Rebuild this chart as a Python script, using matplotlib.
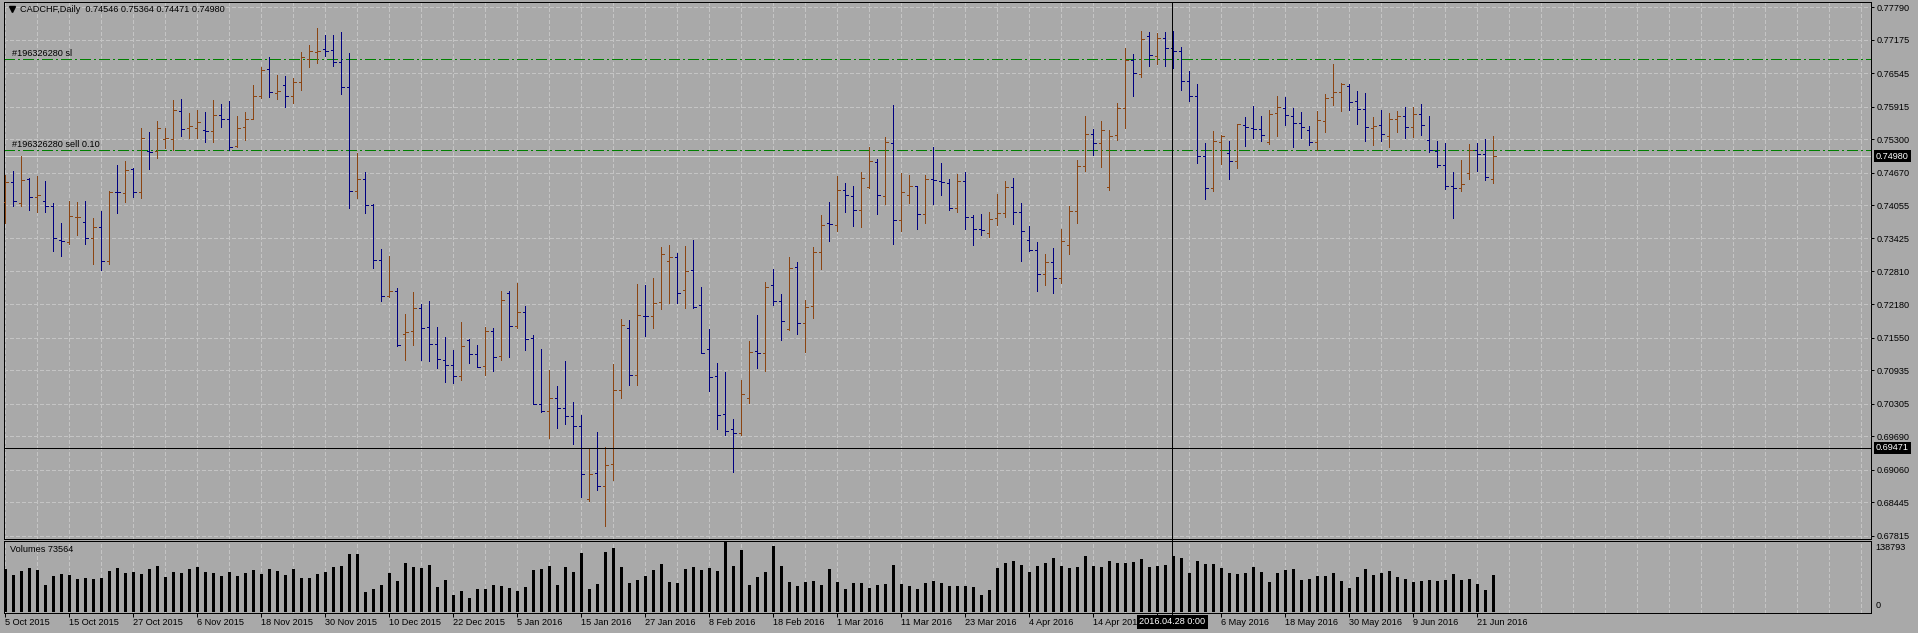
import matplotlib
matplotlib.use('Agg')
import numpy as np
import matplotlib.pyplot as plt
import matplotlib.transforms as mtransforms
from matplotlib.collections import LineCollection
from matplotlib.lines import Line2D

# ---- data (CADCHF daily, 5 Oct 2015 .. 23 Jun 2016) ----
opens = [
    0.74122, 0.74487, 0.74103, 0.74543, 0.74216, 0.74128, 0.74034, 0.73399, 0.73355, 0.73826,
    0.73738, 0.73430, 0.73638, 0.73009, 0.74311, 0.74285, 0.74738, 0.74298, 0.75072, 0.75072,
    0.75304, 0.75304, 0.75833, 0.75518, 0.75518, 0.75474, 0.75462, 0.75757, 0.75682, 0.75179,
    0.75525, 0.75682, 0.76110, 0.76632, 0.76179, 0.76323, 0.76110, 0.76374, 0.76814, 0.76952,
    0.77003, 0.76978, 0.76751, 0.76279, 0.74317, 0.74543, 0.74053, 0.73021, 0.72342, 0.72430,
    0.71625, 0.71675, 0.72115, 0.71751, 0.71436, 0.71134, 0.71034, 0.70826, 0.71512, 0.71247,
    0.71015, 0.71675, 0.71203, 0.72405, 0.71776, 0.72046, 0.71543, 0.70298, 0.70166, 0.70411,
    0.70222, 0.70065, 0.69876, 0.68511, 0.68996, 0.68757, 0.69165, 0.70568, 0.71732, 0.70839,
    0.71971, 0.71971, 0.72222, 0.72996, 0.73078, 0.72449, 0.72832, 0.72166, 0.71335, 0.70826,
    0.70115, 0.69826, 0.69750, 0.70411, 0.71298, 0.71254, 0.72543, 0.72241, 0.71725, 0.72883,
    0.71826, 0.72147, 0.73166, 0.73713, 0.73675, 0.74342, 0.74229, 0.73965, 0.74392, 0.74870,
    0.74222, 0.75229, 0.73770, 0.74241, 0.74411, 0.73883, 0.74543, 0.74518, 0.74468, 0.73996,
    0.74512, 0.73833, 0.73601, 0.73525, 0.73814, 0.73902, 0.74393, 0.73921, 0.73399, 0.73204,
    0.72758, 0.72978, 0.72676, 0.73305, 0.73940, 0.74802, 0.75399, 0.75230, 0.74406, 0.75381,
    0.75884, 0.76796, 0.76525, 0.77255, 0.76865, 0.77205, 0.77016, 0.76966, 0.76393, 0.76117,
    0.74978, 0.74374, 0.75249, 0.75041, 0.74884, 0.75562, 0.75512, 0.75487, 0.75242, 0.75795,
    0.75883, 0.75739, 0.75600, 0.75468, 0.75242, 0.75638, 0.76091, 0.76185, 0.76305, 0.76015,
    0.75864, 0.75506, 0.75562, 0.75355, 0.75676, 0.75732, 0.75525, 0.75770, 0.75286, 0.75072,
    0.74808, 0.74411, 0.74374, 0.74657, 0.75097, 0.75015, 0.74546,
]
highs = [
    0.74625, 0.74701, 0.74984, 0.74562, 0.74606, 0.74512, 0.74103, 0.73726, 0.74135, 0.74116,
    0.74135, 0.73814, 0.73946, 0.74323, 0.74814, 0.74889, 0.74757, 0.75518, 0.75437, 0.75644,
    0.75518, 0.76040, 0.76059, 0.75789, 0.75852, 0.75814, 0.76040, 0.75959, 0.76022, 0.75738,
    0.75820, 0.76323, 0.76669, 0.76858, 0.76512, 0.76493, 0.76449, 0.76952, 0.77078, 0.77393,
    0.77267, 0.77267, 0.77324, 0.76921, 0.75034, 0.74675, 0.74072, 0.73222, 0.73097, 0.72487,
    0.72002, 0.72417, 0.72191, 0.72248, 0.71757, 0.71568, 0.71323, 0.71851, 0.71524, 0.71417,
    0.71757, 0.71732, 0.72436, 0.72436, 0.72581, 0.72153, 0.71606, 0.71335, 0.70945, 0.70644,
    0.71115, 0.70342, 0.70096, 0.69455, 0.69769, 0.69486, 0.71059, 0.71908, 0.71889, 0.72568,
    0.72549, 0.72688, 0.73266, 0.73304, 0.73153, 0.73285, 0.73398, 0.72512, 0.71719, 0.71077,
    0.70908, 0.70021, 0.70757, 0.71493, 0.71983, 0.72606, 0.72851, 0.72380, 0.73078, 0.72983,
    0.72266, 0.73266, 0.73870, 0.74116, 0.74606, 0.74474, 0.74417, 0.74682, 0.75153, 0.74927,
    0.75342, 0.75946, 0.74663, 0.74625, 0.74417, 0.74625, 0.75153, 0.74851, 0.74550, 0.74644,
    0.74682, 0.73871, 0.73890, 0.73934, 0.74267, 0.74513, 0.74569, 0.74097, 0.73663, 0.73362,
    0.73141, 0.73255, 0.73613, 0.74041, 0.74909, 0.75739, 0.75494, 0.75645, 0.75475, 0.75978,
    0.77029, 0.76909, 0.77349, 0.77330, 0.77312, 0.77330, 0.77349, 0.77041, 0.76588, 0.76343,
    0.75236, 0.75462, 0.75381, 0.75267, 0.75594, 0.75720, 0.75927, 0.75739, 0.75852, 0.76116,
    0.76097, 0.75890, 0.75814, 0.75550, 0.75833, 0.76154, 0.76720, 0.76361, 0.76342, 0.76210,
    0.76173, 0.75720, 0.75852, 0.75795, 0.75833, 0.75908, 0.75908, 0.75965, 0.75739, 0.75273,
    0.75229, 0.74682, 0.74908, 0.75210, 0.75229, 0.75305, 0.75364,
]
lows = [
    0.73713, 0.74046, 0.74046, 0.73965, 0.73927, 0.73933, 0.73197, 0.73097, 0.73317, 0.73499,
    0.73329, 0.72939, 0.72839, 0.72939, 0.73914, 0.74122, 0.74216, 0.74197, 0.74745, 0.74940,
    0.75128, 0.75097, 0.75367, 0.75330, 0.75330, 0.75254, 0.75254, 0.75537, 0.75097, 0.75147,
    0.75286, 0.75676, 0.76072, 0.76103, 0.76059, 0.75915, 0.75990, 0.76229, 0.76669, 0.76745,
    0.76877, 0.76688, 0.76160, 0.74009, 0.74197, 0.73914, 0.72877, 0.72254, 0.72329, 0.71386,
    0.71134, 0.71417, 0.71122, 0.71103, 0.70983, 0.70725, 0.70706, 0.70744, 0.71065, 0.70996,
    0.70839, 0.70914, 0.71122, 0.71191, 0.71744, 0.71323, 0.70298, 0.70140, 0.69650, 0.69851,
    0.69914, 0.69537, 0.68536, 0.68461, 0.68669, 0.68002, 0.68857, 0.70405, 0.70650, 0.70650,
    0.71593, 0.71744, 0.72103, 0.72216, 0.72216, 0.72122, 0.72109, 0.71254, 0.70555, 0.69832,
    0.69706, 0.69008, 0.69713, 0.70310, 0.70971, 0.70914, 0.72178, 0.71518, 0.71688, 0.71631,
    0.71291, 0.71927, 0.72858, 0.73386, 0.73575, 0.73933, 0.73669, 0.73650, 0.74373, 0.73895,
    0.74084, 0.73317, 0.73575, 0.74090, 0.73600, 0.73726, 0.74084, 0.74254, 0.73971, 0.73933,
    0.73612, 0.73311, 0.73500, 0.73462, 0.73689, 0.73840, 0.73707, 0.73009, 0.73198, 0.72443,
    0.72538, 0.72387, 0.72594, 0.73141, 0.73726, 0.74708, 0.75009, 0.74783, 0.74349, 0.75286,
    0.75519, 0.76123, 0.76481, 0.76683, 0.76727, 0.76689, 0.76639, 0.76236, 0.76028, 0.74859,
    0.74179, 0.74330, 0.74840, 0.74557, 0.74764, 0.75179, 0.75323, 0.75273, 0.75210, 0.75367,
    0.75575, 0.75160, 0.75323, 0.75198, 0.75097, 0.75443, 0.75952, 0.75839, 0.75858, 0.75594,
    0.75273, 0.75198, 0.75273, 0.75160, 0.75443, 0.75323, 0.75349, 0.75386, 0.75066, 0.74782,
    0.74367, 0.73820, 0.74330, 0.74556, 0.74707, 0.74537, 0.74471,
]
closes = [
    0.74487, 0.74135, 0.74525, 0.74204, 0.74254, 0.74034, 0.73430, 0.73386, 0.73851, 0.73839,
    0.73430, 0.73638, 0.73009, 0.74311, 0.74298, 0.74719, 0.74298, 0.75317, 0.75059, 0.75512,
    0.75317, 0.75852, 0.75493, 0.75550, 0.75625, 0.75462, 0.75757, 0.75682, 0.75160, 0.75506,
    0.75682, 0.76110, 0.76606, 0.76191, 0.76210, 0.76110, 0.76374, 0.76846, 0.76965, 0.76965,
    0.76965, 0.76751, 0.76279, 0.74330, 0.74543, 0.74053, 0.73021, 0.72342, 0.72430, 0.71405,
    0.71656, 0.72115, 0.71738, 0.71436, 0.71147, 0.71034, 0.70826, 0.71398, 0.71247, 0.71008,
    0.71675, 0.71185, 0.72260, 0.71776, 0.72034, 0.71524, 0.70304, 0.70166, 0.70411, 0.70222,
    0.70065, 0.69876, 0.68977, 0.68983, 0.68757, 0.69153, 0.70568, 0.71801, 0.70839, 0.71977,
    0.71958, 0.72210, 0.73134, 0.73078, 0.72398, 0.72807, 0.72140, 0.71260, 0.70813, 0.70090,
    0.69794, 0.69750, 0.70486, 0.71279, 0.71254, 0.72518, 0.72241, 0.71864, 0.72864, 0.71826,
    0.72128, 0.73166, 0.73675, 0.73694, 0.74342, 0.74241, 0.73965, 0.74562, 0.74883, 0.74241,
    0.75241, 0.73770, 0.74304, 0.74417, 0.73883, 0.74543, 0.74531, 0.74487, 0.73996, 0.74512,
    0.73826, 0.73601, 0.73582, 0.73796, 0.73902, 0.74393, 0.73921, 0.73563, 0.73204, 0.72758,
    0.72978, 0.72676, 0.73374, 0.73940, 0.74802, 0.75399, 0.75230, 0.75475, 0.75368, 0.75884,
    0.76796, 0.76544, 0.77186, 0.76884, 0.77205, 0.77016, 0.76966, 0.76393, 0.76117, 0.74978,
    0.74374, 0.75267, 0.75368, 0.74884, 0.75582, 0.75531, 0.75493, 0.75374, 0.75776, 0.75902,
    0.75751, 0.75600, 0.75525, 0.75242, 0.75657, 0.76072, 0.76185, 0.76342, 0.75996, 0.75864,
    0.75525, 0.75544, 0.75393, 0.75676, 0.75732, 0.75525, 0.75770, 0.75562, 0.75091, 0.74808,
    0.74411, 0.74374, 0.74449, 0.75097, 0.75015, 0.74581, 0.74980,
]
volumes = [
    84600, 72700, 80600, 86600, 82600, 52900, 70700, 74700, 72700, 64800,
    66800, 64800, 66800, 80600, 86600, 76700, 78700, 74700, 84600, 90600,
    68700, 78700, 76700, 84600, 88600, 78700, 76700, 70700, 78700, 70700,
    76700, 82600, 74700, 84600, 80600, 72700, 84600, 66800, 66800, 74700,
    78700, 88600, 90600, 114400, 114400, 39000, 44900, 52900, 76700, 60800,
    96500, 88600, 86600, 92500, 48900, 62800, 33100, 41000, 27100, 44900,
    44900, 52900, 50900, 46900, 41000, 48900, 82600, 84600, 90600, 52900,
    88600, 78700, 116300, 44900, 54900, 118300, 126300, 88600, 56800, 62800,
    70700, 82600, 94500, 58800, 56800, 84600, 88600, 82600, 86600, 80600,
    138793, 90600, 122300, 52900, 68700, 78700, 130200, 90600, 58800, 50900,
    58800, 60800, 52900, 84600, 58800, 44900, 56800, 56800, 46900, 52900,
    54900, 92500, 54900, 50900, 44900, 56800, 60800, 56800, 50900, 50900,
    50900, 48900, 33100, 43000, 86600, 96500, 100500, 92500, 78700, 90600,
    96500, 106400, 90600, 86600, 88600, 110400, 90600, 88600, 100500, 96500,
    96500, 98500, 104400, 88600, 90600, 92500, 110400, 106400, 76700, 100500,
    94500, 94500, 86600, 76700, 75700, 76700, 88600, 78700, 58800, 76700,
    82600, 84600, 62800, 64800, 70700, 70700, 76700, 60800, 46900, 68700,
    84600, 72700, 76700, 80600, 68700, 64800, 58800, 60800, 62800, 60800,
    62800, 74700, 62800, 64800, 54900, 43000, 73564,
]
date_labels = [
    '5 Oct 2015', '15 Oct 2015', '27 Oct 2015', '6 Nov 2015', '18 Nov 2015',
    '30 Nov 2015', '10 Dec 2015', '22 Dec 2015', '5 Jan 2016', '15 Jan 2016',
    '27 Jan 2016', '8 Feb 2016', '18 Feb 2016', '1 Mar 2016', '11 Mar 2016',
    '23 Mar 2016', '4 Apr 2016', '14 Apr 2016', '26 Apr 2016', '6 May 2016',
    '18 May 2016', '30 May 2016', '9 Jun 2016', '21 Jun 2016',
]
price_ticks = [0.77790, 0.77175, 0.76545, 0.75915, 0.75300, 0.74670, 0.74055, 0.73425,
               0.72810, 0.72180, 0.71550, 0.70935, 0.70305, 0.69690, 0.69060, 0.68445,
               0.67815]
sl_price = 0.76808
sell_price = 0.75090
bid_price = 0.74980
cross_price = 0.69471
cross_bar = 146
cross_label = '2016.04.28 0:00'
vol_max_label = 138793

# ---- style ----
plt.rcParams['font.family'] = ['Liberation Sans', 'DejaVu Sans']
plt.rcParams['lines.scale_dashes'] = False
FS = 6.6
BG = '#a9a9a9'
GRID = '#c4c4c4'
UP = '#8b4513'
DOWN = '#000080'
PX = 0.72  # one pixel in points

W, H = 1918, 633
fig = plt.figure(figsize=(W / 100, H / 100), dpi=100)
fig.patch.set_facecolor(BG)

def fx(p):
    return p / W

def fy(p):
    return 1 - p / H

ax = fig.add_axes([fx(4), fy(539), fx(1871) - fx(4), fy(1.7) - fy(539)])
axv = fig.add_axes([fx(4), fy(612.5), fx(1871) - fx(4), fy(541) - fy(612.5)], sharex=ax)

o = np.array(opens); h = np.array(highs); l = np.array(lows); c = np.array(closes)
n = len(o)
x = np.arange(n)
x0, x1 = (4 - 5.3) / 8, (1871 - 5.3) / 8
y0, y1 = 0.677515, 0.778957

for a in (ax, axv):
    a.set_facecolor(BG)
    for s in a.spines.values():
        s.set_color('black')
        s.set_linewidth(PX)
ax.set_xlim(x0, x1)
ax.set_ylim(y0, y1)
axv.set_ylim(-1600, 140200)

# grid
gx = np.arange(0, 236, 4)
ax.vlines(gx, y0, y1, colors=GRID, linewidth=PX, linestyles=(0, (2.2, 1.5)), antialiased=False, zorder=0)
ax.hlines(price_ticks, x0, x1, colors=GRID, linewidth=PX, linestyles=(0, (2.2, 1.5)), antialiased=False, zorder=0)
axv.vlines(gx, -1600, 140200, colors=GRID, linewidth=PX, linestyles=(0, (2.2, 1.5)), antialiased=False, zorder=0)

# order lines, bid line, crosshair
ax.axhline(bid_price, color='#d3d3d3', lw=PX, antialiased=False, zorder=1)
for p in (sl_price, sell_price):
    ax.axhline(p, color='#008000', lw=PX * 1.3, dashes=(7.2, 2.2, 1.4, 2.2), antialiased=False, zorder=1)
ax.axhline(cross_price, color='black', lw=PX, antialiased=False, zorder=4)

# OHLC bars
tk = 0.3
segs, cols = [], []
for i in range(n):
    col = UP if c[i] > o[i] else DOWN
    segs += [[(i, l[i]), (i, h[i])], [(i - tk, o[i]), (i, o[i])], [(i, c[i]), (i + tk, c[i])]]
    cols += [col] * 3
ax.add_collection(LineCollection(segs, colors=cols, linewidths=PX, antialiased=False, zorder=3))

# volumes
axv.bar(x, volumes, width=0.32, color='black', antialiased=False, zorder=3)

# axes ticks
ax.yaxis.tick_right()
ax.set_yticks(price_ticks)
ax.set_yticklabels(['%.5f' % t for t in price_ticks])
ax.tick_params(axis='y', direction='out', length=2.2, width=PX, pad=1.6, labelsize=FS, colors='black')
ax.tick_params(axis='x', bottom=False, labelbottom=False)
axv.set_yticks([])
didx = list(range(0, 8 * len(date_labels), 8))
axv.set_xticks(didx)
# the label under the crosshair date box is hidden by it in the terminal
axv.set_xticklabels(['' if abs(d - cross_bar) < 4 else s for d, s in zip(didx, date_labels)])
axv.tick_params(axis='x', direction='out', length=3, width=PX, pad=1.2, labelsize=FS, colors='black')
for t in axv.get_xticklabels():
    t.set_ha('left')

# crosshair vertical line over the whole chart
cx = 4 + (cross_bar - 0.12 - x0) * 8
fig.add_artist(Line2D([fx(cx), fx(cx)], [fy(1.7), fy(617)], color='black', lw=PX,
                      antialiased=False, transform=fig.transFigure, zorder=5))

# texts
fig.add_artist(Line2D([fx(12)], [fy(9.3)], marker='v', markersize=4.3, color='black',
                      linestyle='none', transform=fig.transFigure))
fig.text(fx(20.5), fy(9.6), 'CADCHF,Daily  %.5f %.5f %.5f %.5f' % (o[-1], h[-1], l[-1], c[-1]),
         fontsize=FS, va='center', ha='left')
fig.text(fx(11.5), fy(53.5), '#196326280 sl', fontsize=FS, va='center', ha='left')
fig.text(fx(11.5), fy(144.5), '#196326280 sell 0.10', fontsize=FS, va='center', ha='left')
fig.text(fx(10), fy(550), 'Volumes %d' % volumes[-1], fontsize=FS, va='center', ha='left')
fig.text(fx(1875.5), fy(547.3), '%d' % vol_max_label, fontsize=FS, va='center', ha='left')
fig.text(fx(1875.5), fy(606), '0', fontsize=FS, va='center', ha='left')

# highlighted price labels
bt = mtransforms.blended_transform_factory(ax.transAxes, ax.transData)
xl = (1876 - 4) / (1871 - 4)
for p in (bid_price, cross_price):
    ax.text(xl, p, '%.5f' % p, transform=bt, fontsize=FS, color='white', va='center', ha='left',
            clip_on=False, zorder=10,
            bbox=dict(boxstyle='square,pad=0.2', fc='black', ec='none'))

# crosshair date label (covers the end of the neighbouring date label, as in the terminal)
fig.text(fx(cx), fy(622), cross_label, fontsize=FS, color='white', va='center', ha='center',
         zorder=10, bbox=dict(boxstyle='square,pad=0.3', fc='black', ec='none'))

fig.savefig('out.png', dpi=100, facecolor=BG)
